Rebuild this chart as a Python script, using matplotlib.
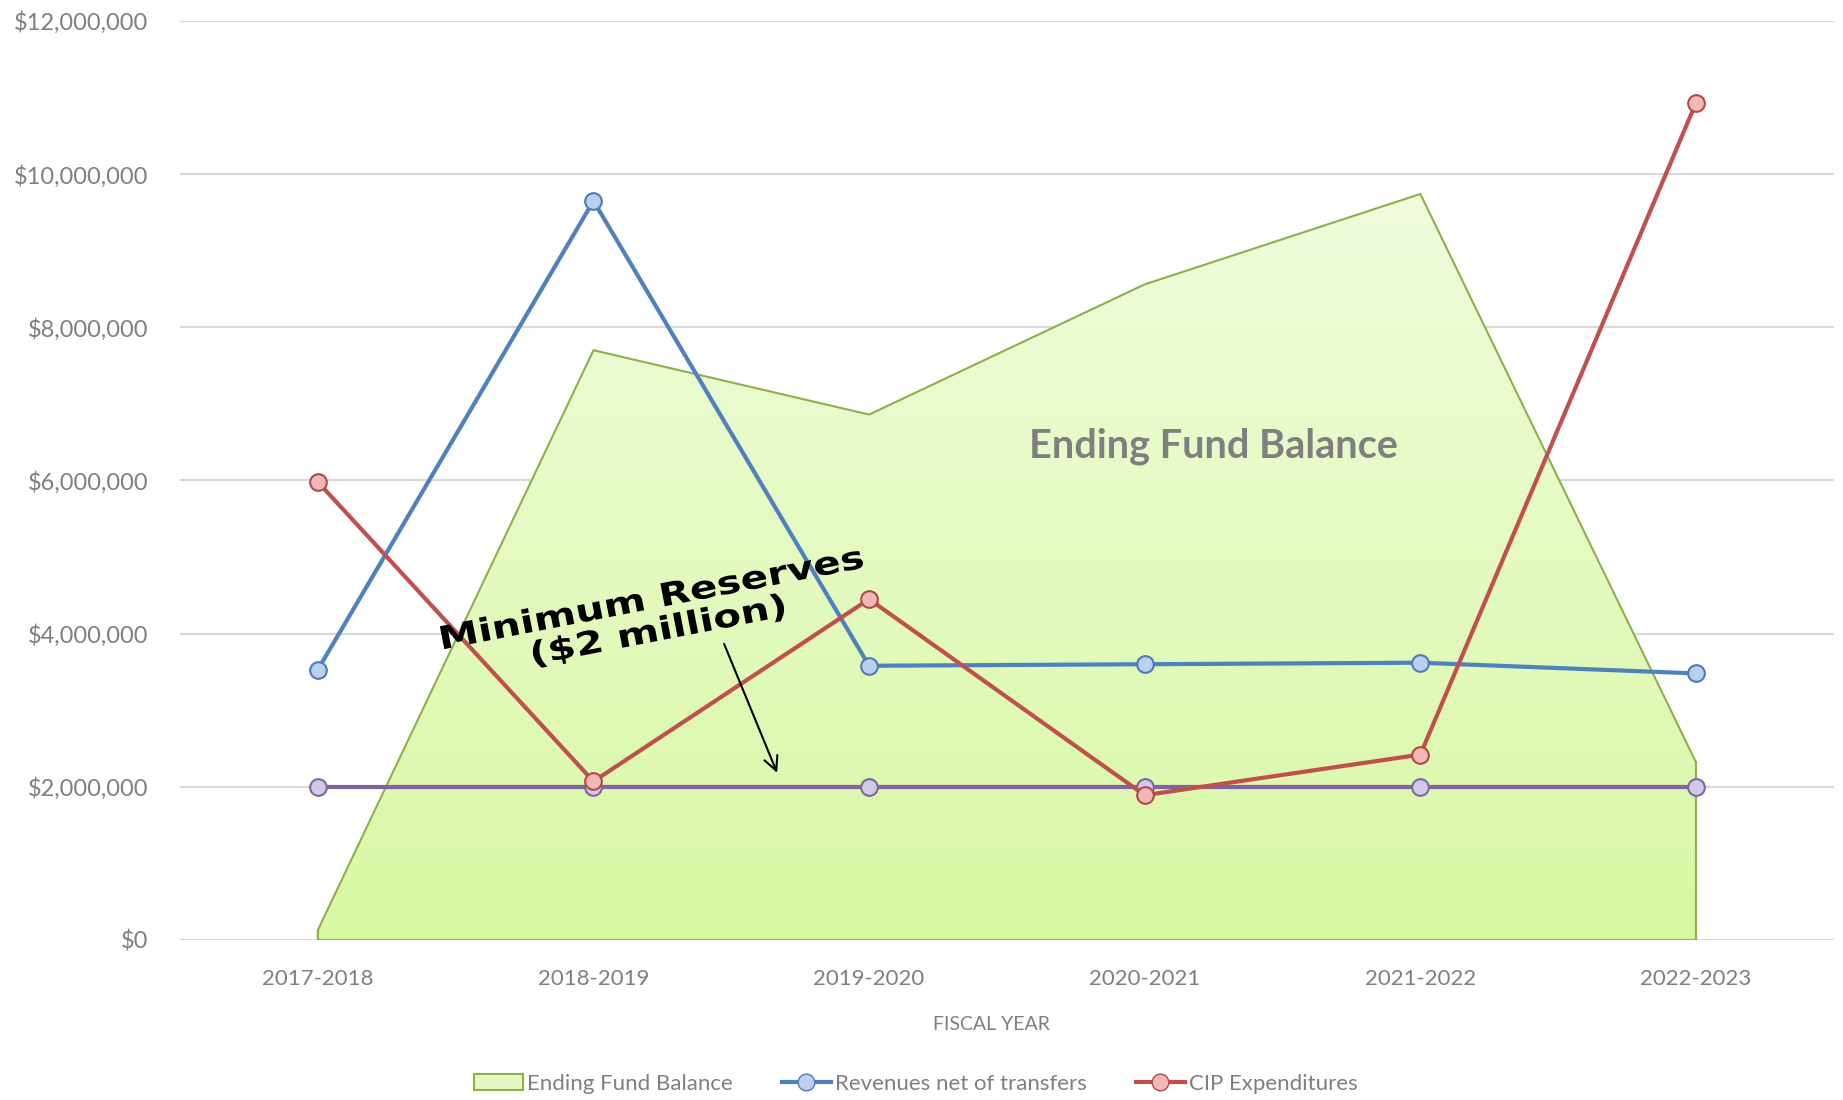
import numpy as np
import matplotlib.pyplot as plt
from matplotlib.lines import Line2D
from matplotlib.patches import Patch, PathPatch
from matplotlib.colors import LinearSegmentedColormap
from matplotlib.ticker import FuncFormatter
from matplotlib.textpath import TextPath
from matplotlib.font_manager import FontProperties
from matplotlib.transforms import Affine2D, ScaledTranslation

years = ['2017-2018', '2018-2019', '2019-2020', '2020-2021', '2021-2022', '2022-2023']
fund_balance = [130000, 7700000, 6860000, 8560000, 9740000, 2320000]
revenues = [3530000, 9650000, 3580000, 3600000, 3620000, 3480000]
cip_expend = [5980000, 2070000, 4450000, 1890000, 2420000, 10930000]
min_reserves = [2000000, 2000000, 2000000, 2000000, 2000000, 2000000]

plt.rcParams['font.family'] = ['Lato', 'DejaVu Sans']

fig = plt.figure(figsize=(18.43, 11.0), dpi=100)
ax = fig.add_axes([0.0977, 0.1455, 0.8973, 0.8355])

x = np.arange(len(years))
ymax = 12000000

# area with vertical gradient
poly = ax.fill_between(x, 0, fund_balance, facecolor='none', edgecolor='#8db04a', linewidth=1.5, zorder=2)
grad = LinearSegmentedColormap.from_list('g', ['#d8f8a4', '#f0fcdc'])
img = ax.imshow(np.linspace(0, 1, 256).reshape(-1, 1), cmap=grad, origin='lower', aspect='auto',
                extent=[x[0], x[-1], 0, max(fund_balance)], zorder=1)
img.set_clip_path(poly.get_paths()[0], transform=ax.transData)
ax.plot([x[-1], x[-1]], [0, fund_balance[-1]], color='#8db04a', lw=1.5, zorder=2)
ax.plot([x[0], x[0]], [0, fund_balance[0]], color='#8db04a', lw=1.5, zorder=2)

ax.plot(x, min_reserves, color='#8064a2', lw=3, marker='o', ms=12, mfc='#d3c8ea', mec='#7a6a96', mew=1.5, zorder=3)
ax.plot(x, revenues, color='#4f81bd', lw=3, marker='o', ms=12, mfc='#b9d0f0', mec='#4f7ab5', mew=1.5, zorder=4)
ax.plot(x, cip_expend, color='#c0504d', lw=3, marker='o', ms=12, mfc='#f3b8b6', mec='#b04a48', mew=1.5, zorder=5)

ax.set_xlim(-0.5, 5.5)
ax.set_ylim(0, ymax)
ax.set_yticks(np.arange(0, ymax + 1, 2000000))
ax.yaxis.set_major_formatter(FuncFormatter(lambda v, p: f'${v:,.0f}'))
ax.set_xticks(x)
ax.set_xticklabels(years)
ax.tick_params(axis='both', length=0, labelsize=16, colors='#7f7f7f')
ax.tick_params(axis='y', labelsize=17, pad=23)
ax.tick_params(axis='x', pad=21)
ax.grid(axis='y', color='#d9d9d9', lw=1.5, zorder=0)
ax.set_axisbelow(True)
for s in ax.spines.values():
    s.set_visible(False)

ax.set_xlabel('FISCAL YEAR', fontsize=14, color='#7f7f7f', labelpad=19)
ax.xaxis.label.set_x(0.4905)

ax.text(3.25, 6450000, 'Ending Fund Balance', fontsize=28.5, fontweight='bold', color='#7f7f7f',
        ha='center', va='center', zorder=6)

# stretched, rotated note
fp = FontProperties(family='DejaVu Sans', weight='bold', size=23)
px = fig.dpi / 72.0
for i, line in enumerate(['Minimum Reserves', '($2 million)']):
    tp = TextPath((0, 0), line, prop=fp)
    ext = tp.get_extents()
    tr = (Affine2D().translate(-(ext.x0 + ext.x1) / 2, -i * 23.5)
          .scale(1.27 * px, px).rotate_deg(11)
          + ScaledTranslation(1.22, 4330000, ax.transData))
    ax.add_patch(PathPatch(tp, transform=tr, facecolor='black', edgecolor='none', zorder=7))

ax.annotate('', xy=(1.67, 2150000), xytext=(1.47, 3900000),
            arrowprops=dict(arrowstyle='->', color='black', lw=1.5, mutation_scale=25), zorder=7)

handles = [
    Patch(facecolor='#e4f9c0', edgecolor='#8db04a', lw=1.5, label='Ending Fund Balance'),
    Line2D([0], [0], color='#4f81bd', lw=3, marker='o', ms=12, mfc='#b9d0f0', mec='#4f7ab5', label='Revenues net of transfers'),
    Line2D([0], [0], color='#c0504d', lw=3, marker='o', ms=12, mfc='#f3b8b6', mec='#b04a48', label='CIP Expenditures'),
]
leg = fig.legend(handles=handles, loc='center', bbox_to_anchor=(0.497, 0.015), ncol=3, frameon=False,
                 fontsize=16, labelcolor='#7f7f7f', handlelength=2.2, handletextpad=0.2, columnspacing=2.2)

fig.savefig('out.png', dpi=100)
